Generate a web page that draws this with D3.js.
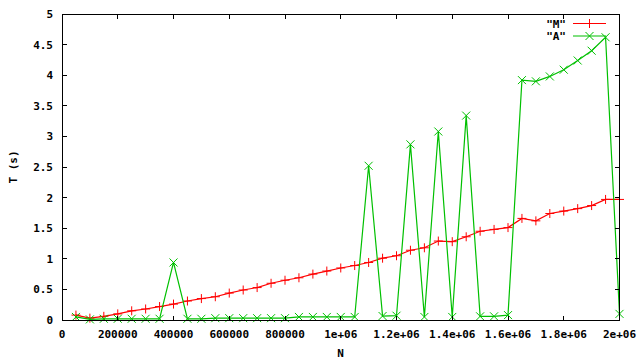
<!DOCTYPE html>
<html><head><meta charset="utf-8">
<script src="https://cdn.jsdelivr.net/npm/d3@7"></script>
<style>body{margin:0;background:#fff}svg{display:block}text{font-family:"DejaVu Sans Mono","Liberation Mono",monospace;font-weight:bold;font-size:11px;fill:#000}</style>
</head><body><svg id="c" width="640" height="360"></svg>
<script>
const nValues = [50000,100000,150000,200000,250000,300000,350000,400000,450000,500000,550000,600000,650000,700000,750000,800000,850000,900000,950000,1000000,1050000,1100000,1150000,1200000,1250000,1300000,1350000,1400000,1450000,1500000,1550000,1600000,1650000,1700000,1750000,1800000,1850000,1900000,1950000,2000000];
const mValues = [0.08,0.03,0.06,0.10,0.15,0.18,0.22,0.26,0.31,0.35,0.38,0.44,0.49,0.53,0.60,0.65,0.69,0.75,0.80,0.85,0.89,0.94,1.01,1.05,1.14,1.18,1.29,1.28,1.36,1.45,1.48,1.51,1.66,1.62,1.74,1.78,1.82,1.87,1.97,1.97];
const aValues = [0.05,0.01,0.02,0.02,0.02,0.02,0.02,0.94,0.02,0.02,0.03,0.03,0.03,0.03,0.03,0.03,0.05,0.05,0.05,0.05,0.05,2.52,0.065,0.07,2.87,0.05,3.08,0.05,3.34,0.06,0.06,0.08,3.92,3.90,3.98,4.09,4.24,4.40,4.62,0.10];
const xTicks = [0,200000,400000,600000,800000,1000000,1200000,1400000,1600000,1800000,2000000];
const xTickLabels = ["0","200000","400000","600000","800000","1e+06","1.2e+06","1.4e+06","1.6e+06","1.8e+06","2e+06"];
const yTicks = [0,0.5,1,1.5,2,2.5,3,3.5,4,4.5,5];
const yTickLabels = ["0","0.5","1","1.5","2","2.5","3","3.5","4","4.5","5"];
const seriesNames = ['"M"','"A"'];

const svg = d3.select("#c");
const L=62, R=619.5, T=14, B=320;
const x = d3.scaleLinear().domain([0,2000000]).range([L,R]);
const y = d3.scaleLinear().domain([0,5]).range([B,T]);
const red="#ff0000", green="#00c000";
const tk=4.5;

function plus(g,cx,cy,col){g.append("path").attr("d",`M${cx-4.5},${cy}H${cx+4.5}M${cx},${cy-4.5}V${cy+4.5}`).attr("stroke",col).attr("stroke-width",1).attr("fill","none");}
function cross(g,cx,cy,col){g.append("path").attr("d",`M${cx-4},${cy-4}L${cx+4},${cy+4}M${cx-4},${cy+4}L${cx+4},${cy-4}`).attr("stroke",col).attr("stroke-width",1).attr("fill","none");}

const data = [{vals:mValues,col:red,mk:plus},{vals:aValues,col:green,mk:cross}];
const line = d3.line();
data.forEach(s=>{
  const pts = nValues.map((n,i)=>[x(n),y(s.vals[i])]);
  svg.append("path").attr("d",line(pts)).attr("stroke",s.col).attr("stroke-width",1.2).attr("fill","none");
  const g=svg.append("g");
  pts.forEach(p=>s.mk(g,p[0],p[1],s.col));
});

// axes
const ax = svg.append("g").attr("shape-rendering","crispEdges");
ax.append("rect").attr("x",L).attr("y",T).attr("width",R-L).attr("height",B-T).attr("fill","none").attr("stroke","#000").attr("stroke-width",1);
xTicks.forEach((t,i)=>{
  ax.append("line").attr("x1",x(t)).attr("x2",x(t)).attr("y1",B).attr("y2",B-tk).attr("stroke","#000");
  ax.append("line").attr("x1",x(t)).attr("x2",x(t)).attr("y1",T).attr("y2",T+tk).attr("stroke","#000");
  svg.append("text").attr("x",x(t)).attr("y",338).attr("text-anchor","middle").text(xTickLabels[i]);
});
yTicks.forEach((t,i)=>{
  ax.append("line").attr("x1",L).attr("x2",L+tk).attr("y1",y(t)).attr("y2",y(t)).attr("stroke","#000");
  ax.append("line").attr("x1",R).attr("x2",R-tk).attr("y1",y(t)).attr("y2",y(t)).attr("stroke","#000");
  svg.append("text").attr("x",53).attr("y",y(t)+4).attr("text-anchor","end").text(yTickLabels[i]);
});
svg.append("text").attr("x",340.5).attr("y",357).attr("text-anchor","middle").text("N");
svg.append("text").attr("transform","translate(17,167) rotate(-90)").attr("text-anchor","middle").text("T (s)");

// legend
[{col:red,mk:plus,y:23.5},{col:green,mk:cross,y:36}].forEach((l,i)=>{
  svg.append("text").attr("x",566).attr("y",l.y+4).attr("text-anchor","end").text(seriesNames[i]);
  svg.append("line").attr("x1",573).attr("x2",606).attr("y1",l.y).attr("y2",l.y).attr("stroke",l.col).attr("stroke-width",1.2);
  l.mk(svg,589.5,l.y,l.col);
});
</script></body></html>
